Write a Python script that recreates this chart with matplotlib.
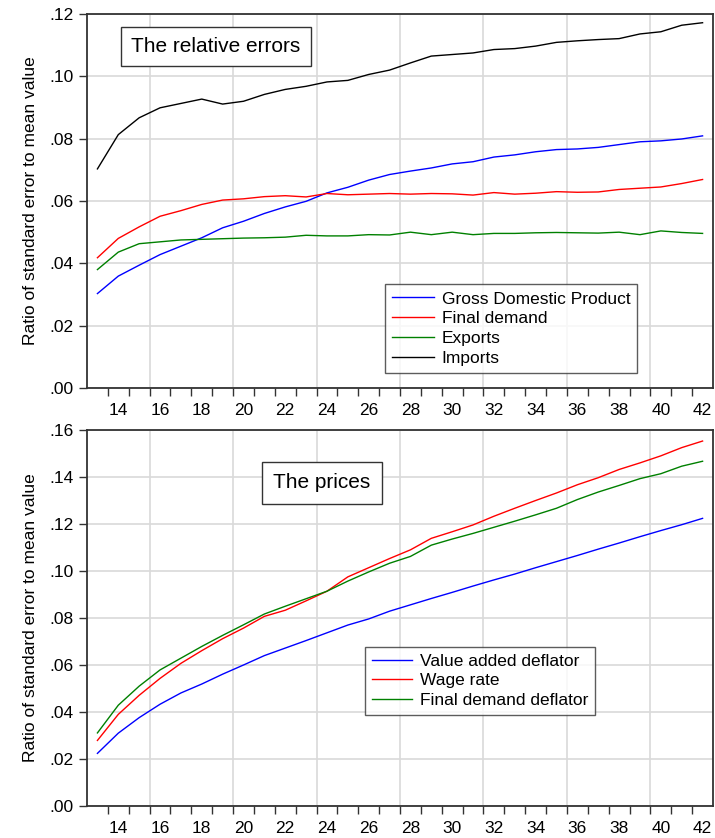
import matplotlib
matplotlib.use("Agg")
import matplotlib.pyplot as plt
from matplotlib.ticker import FixedLocator, FuncFormatter
import numpy as np

plt.rcParams['font.family'] = ['Liberation Sans', 'DejaVu Sans']

obs = list(range(13, 43))

gdp = [0.0303, 0.0359, 0.0394, 0.0428, 0.0455, 0.0482, 0.0514, 0.0535, 0.0560, 0.0581,
       0.0599, 0.0626, 0.0644, 0.0667, 0.0685, 0.0696, 0.0706, 0.0719, 0.0726, 0.0741,
       0.0748, 0.0758, 0.0765, 0.0767, 0.0772, 0.0781, 0.0790, 0.0793, 0.0799, 0.0809]
final_demand = [0.0418, 0.0480, 0.0517, 0.0551, 0.0569, 0.0589, 0.0603, 0.0607, 0.0614, 0.0617,
                0.0613, 0.0624, 0.0620, 0.0622, 0.0624, 0.0622, 0.0624, 0.0623, 0.0619, 0.0627,
                0.0622, 0.0625, 0.0630, 0.0628, 0.0629, 0.0637, 0.0641, 0.0645, 0.0656, 0.0669]
exports = [0.0380, 0.0436, 0.0463, 0.0469, 0.0475, 0.0477, 0.0479, 0.0481, 0.0482, 0.0484,
           0.0490, 0.0488, 0.0488, 0.0492, 0.0491, 0.0500, 0.0492, 0.0500, 0.0492, 0.0496,
           0.0496, 0.0498, 0.0499, 0.0498, 0.0497, 0.0500, 0.0492, 0.0504, 0.0499, 0.0496]
imports = [0.0703, 0.0813, 0.0867, 0.0899, 0.0913, 0.0927, 0.0911, 0.0920, 0.0942, 0.0958,
           0.0968, 0.0982, 0.0987, 0.1006, 0.1020, 0.1043, 0.1065, 0.1070, 0.1075, 0.1086,
           0.1089, 0.1097, 0.1109, 0.1114, 0.1118, 0.1121, 0.1136, 0.1143, 0.1164, 0.1172]

va_deflator = [0.0224, 0.0310, 0.0376, 0.0433, 0.0481, 0.0519, 0.0561, 0.0600, 0.0640, 0.0672,
               0.0704, 0.0737, 0.0770, 0.0796, 0.0829, 0.0856, 0.0883, 0.0909, 0.0936, 0.0962,
               0.0987, 0.1014, 0.1040, 0.1066, 0.1093, 0.1119, 0.1146, 0.1172, 0.1197, 0.1224]
wage_rate = [0.0279, 0.0390, 0.0471, 0.0543, 0.0607, 0.0661, 0.0712, 0.0757, 0.0807, 0.0833,
             0.0873, 0.0914, 0.0975, 0.1014, 0.1053, 0.1090, 0.1139, 0.1167, 0.1196, 0.1233,
             0.1267, 0.1300, 0.1332, 0.1367, 0.1397, 0.1432, 0.1460, 0.1490, 0.1525, 0.1553]
fd_deflator = [0.0311, 0.0429, 0.0510, 0.0579, 0.0629, 0.0679, 0.0726, 0.0771, 0.0817, 0.0850,
               0.0882, 0.0914, 0.0957, 0.0996, 0.1033, 0.1062, 0.1110, 0.1136, 0.1160, 0.1186,
               0.1212, 0.1239, 0.1267, 0.1304, 0.1336, 0.1364, 0.1393, 0.1414, 0.1446, 0.1467]

top_series = [("Gross Domestic Product", gdp, "#0000ff"),
              ("Final demand", final_demand, "#ff0000"),
              ("Exports", exports, "#008000"),
              ("Imports", imports, "#000000")]
bot_series = [("Value added deflator", va_deflator, "#0000ff"),
              ("Wage rate", wage_rate, "#ff0000"),
              ("Final demand deflator", fd_deflator, "#008000")]

ylabel = "Ratio of standard error to mean value"
FS = 12.5

fig = plt.figure(figsize=(7.15, 8.38), dpi=100)
W, H = 715, 838
L, R = 87, 713
ax1 = fig.add_axes([L / W, 1 - 388 / H, (R - L) / W, (388 - 14) / H])
ax2 = fig.add_axes([L / W, 1 - 806 / H, (R - L) / W, (806 - 430) / H])

fmt = FuncFormatter(lambda v, p: f"{v:.2f}"[1:] if v >= 0 else f"{v:.2f}")

def style(ax, ymax):
    ax.set_xlim(12.5, 42.5)
    ax.set_ylim(0, ymax)
    ax.set_yticks(np.arange(0, ymax + 1e-9, 0.02))
    ax.yaxis.set_major_formatter(fmt)
    ax.set_xticks(list(range(14, 43, 2)))
    ax.xaxis.set_minor_locator(FixedLocator([x + 0.5 for x in range(13, 42)]))
    ax.tick_params(axis='x', which='major', length=0, labelsize=FS, pad=10.5)
    ax.tick_params(axis='x', which='minor', length=5.5, width=1, direction='out', color='#333333')
    ax.tick_params(axis='y', which='major', length=5.5, width=1, direction='out', labelsize=FS,
                   color='#333333', pad=4)
    ax.grid(axis='y', color='#d9d9d9', linewidth=1.2)
    for gx in [15.5, 19.5, 23.5, 27.5, 31.5, 35.5, 39.5]:
        ax.axvline(gx, color='#d9d9d9', linewidth=1.2, zorder=0)
    ax.set_axisbelow(True)
    for s in ax.spines.values():
        s.set_color('#333333')
        s.set_linewidth(1.3)
    ax.set_ylabel(ylabel, fontsize=FS, labelpad=8)

for name, vals, c in top_series:
    ax1.plot(obs, vals, color=c, linewidth=1.0, label=name)
style(ax1, 0.12)
ax1.text(0.206, 0.913, "The relative errors", transform=ax1.transAxes, ha='center', va='center',
         fontsize=15, bbox=dict(boxstyle='square,pad=0.5', facecolor='white', edgecolor='#333333',
                                linewidth=1))
leg1 = ax1.legend(loc='lower left', bbox_to_anchor=(0.476, 0.040), fontsize=FS, frameon=True,
                  fancybox=False, edgecolor='#333333', handlelength=2.4, labelspacing=0.27,
                  borderpad=0.4, handletextpad=0.46, borderaxespad=0)
leg1.get_frame().set_linewidth(1)

for name, vals, c in bot_series:
    ax2.plot(obs, vals, color=c, linewidth=1.0, label=name)
style(ax2, 0.16)
ax2.text(0.375, 0.86, "The prices", transform=ax2.transAxes, ha='center', va='center',
         fontsize=15, bbox=dict(boxstyle='square,pad=0.55', facecolor='white', edgecolor='#333333',
                                linewidth=1))
leg2 = ax2.legend(loc='lower left', bbox_to_anchor=(0.444, 0.243), fontsize=FS, frameon=True,
                  fancybox=False, edgecolor='#333333', handlelength=2.3, labelspacing=0.25,
                  borderpad=0.4, handletextpad=0.46, borderaxespad=0)
leg2.get_frame().set_linewidth(1)

fig.savefig("out.png", dpi=100)
